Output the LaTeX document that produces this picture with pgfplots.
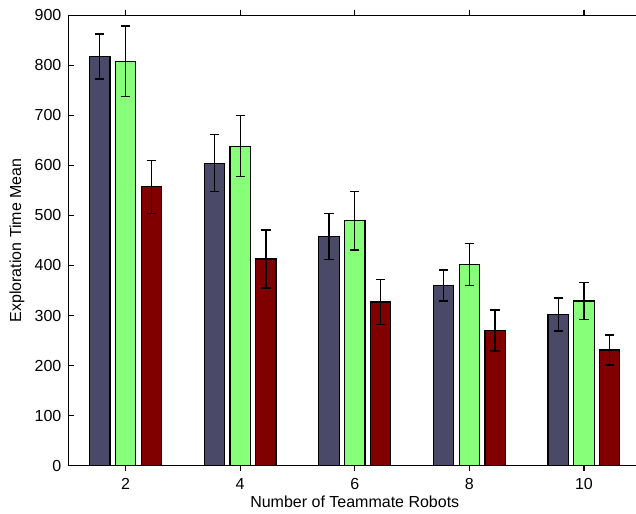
\documentclass[border=0pt]{standalone}
\usepackage{pgfplots}
\pgfplotsset{compat=1.18}
\usepackage{pgfplotstable}
\usepackage{fontspec}
\setmainfont{Liberation Sans}
\definecolor{cdark}{RGB}{74,74,104}
\definecolor{cgreen}{RGB}{136,255,120}
\definecolor{cred}{RGB}{128,0,0}
\pgfplotstableread{
x y e
2 817 45
4 604 57
6 458 46
8 360 31
10 302 33
}\tdark
\pgfplotstableread{
x y e
2 808 70
4 638 61
6 489 58
8 402 42
10 329 37
}\tgreen
\pgfplotstableread{
x y e
2 557 53
4 413 58
6 327 45
8 270 41
10 231 30
}\tred
\pgfplotsset{myerr/.style={error bars/.cd, y dir=both, y explicit,
  error bar style={line width=1pt, black},
  error mark options={rotate=90, mark size=3.5pt, line width=1pt, black}}}
\begin{document}
\begin{tikzpicture}
\fontsize{12}{14}\selectfont
\begin{axis}[
  at={(0,0)}, anchor=south west,
  scale only axis,
  width=429.75pt, height=338pt,
  xmin=1, xmax=11, ymin=0, ymax=900,
  xtick={2,4,6,8,10},
  ytick={0,100,...,900},
  tick align=inside,
  major tick length=4pt,
  minor tick num=0,
  axis line style={line width=0.8pt},
  tick style={line width=0.8pt, black},
  /pgf/number format/assume math mode=true,
  ticklabel style={font=\fontsize{12}{14}\selectfont},
  xticklabel style={yshift=-1pt},
  yticklabel style={xshift=-1pt},
  label style={font=\fontsize{12}{14}\selectfont},
  xlabel={Number of Teammate Robots},
  ylabel={Exploration Time Mean},
  every axis x label/.style={at={(axis description cs:0.5,-0.0795)}, anchor=center},
  every axis y label/.style={at={(axis description cs:-0.0895,0.5)}, rotate=90, anchor=center},
  ybar, bar width=0.354,
]
\addplot[draw=black, line width=0.9pt, fill=cdark, bar shift=-0.45, myerr]
  table[x=x, y=y, y error=e] {\tdark};
\addplot[draw=black, line width=0.9pt, fill=cgreen, bar shift=0, myerr]
  table[x=x, y=y, y error=e] {\tgreen};
\addplot[draw=black, line width=0.9pt, fill=cred, bar shift=0.45, myerr]
  table[x=x, y=y, y error=e] {\tred};
\end{axis}
\pgfresetboundingbox
\path[use as bounding box] (-51.2pt,-36.2pt) rectangle (425.8pt,349.3pt);
\end{tikzpicture}
\end{document}
